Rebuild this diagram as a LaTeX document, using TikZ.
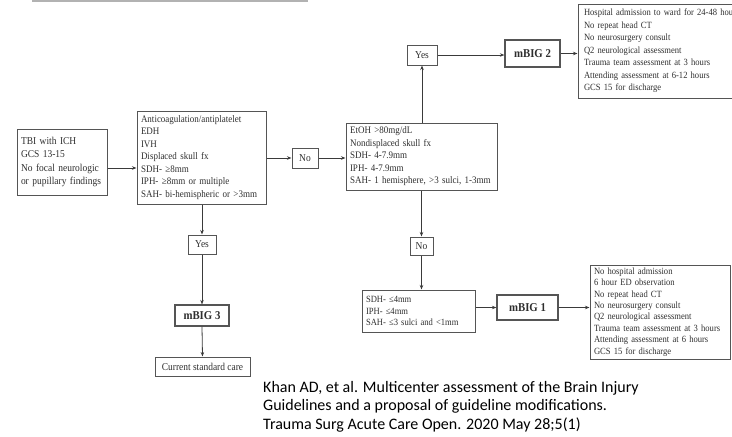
\documentclass[tikz,border=0pt]{standalone}
\usepackage{fontspec}
\setmainfont{Liberation Serif}[FakeStretch=0.9]
\newfontfamily\citefont{Carlito}
\usetikzlibrary{arrows.meta}
\definecolor{boxc}{HTML}{555555}
\definecolor{txtc}{HTML}{2E2E2E}
\definecolor{linec}{HTML}{3A3A3A}
\tikzset{
  base/.style={draw=boxc, line width=1pt, rectangle, text=txtc, inner sep=0pt},
  textbox/.style={base, align=left, inner xsep=4pt, font=\fontsize{10}{12.5}\selectfont},
  tagbox/.style={base, align=center, font=\fontsize{10.5}{11}\selectfont},
  bigbox/.style={base, align=center, line width=1.2pt, font=\fontsize{12}{13}\selectfont\bfseries},
  arr/.style={draw=linec, line width=0.8pt, -{Stealth[length=4.5pt,width=3.5pt]}},
  citetext/.style={anchor=base west, inner sep=0pt, text=black, font=\citefont\fontsize{16}{18}\selectfont},
}
\begin{document}
\begin{tikzpicture}[x=1pt,y=-1pt]
\useasboundingbox (0,0) rectangle (732,437);
\clip (0,0) rectangle (732,437);
% top rule
\draw[line width=2pt, draw=gray!60] (32,1.2) -- (308,1.2);

\node[textbox, text width=82pt, minimum height=66pt, font=\fontsize{10.5}{13.5}\selectfont] (tbi) at (62,162)
  {TBI with ICH\\GCS 13-15\\No focal neurologic\\or pupillary findings};
\node[textbox, text width=121pt, minimum height=93pt] (b2) at (201.5,157.5)
  {Anticoagulation/antiplatelet\\EDH\\IVH\\Displaced skull fx\\SDH- ≥8mm\\IPH- ≥8mm or multiple\\SAH- bi-hemispheric or >3mm};
\node[tagbox, minimum width=26pt, minimum height=20pt] (no1) at (305,158) {No};
\node[textbox, text width=143pt, minimum height=67pt] (b3) at (421.5,156.5)
  {EtOH >80mg/dL\\Nondisplaced skull fx\\SDH- 4-7.9mm\\IPH- 4-7.9mm\\SAH- 1 hemisphere, >3 sulci, 1-3mm};
\node[tagbox, minimum width=30pt, minimum height=20pt] (yes1) at (422,55) {Yes};
\node[bigbox, minimum width=55pt, minimum height=27pt] (mbig2) at (532.5,53.5) {mBIG 2};
\node[textbox, inner xsep=6pt, text width=160pt, minimum height=94pt, font=\fontsize{9.5}{12.5}\selectfont] (r2) at (664,51)
  {\mbox{Hospital admission to ward for 24-48 hours}\\No repeat head CT\\No neurosurgery consult\\Q2 neurological assessment\\Trauma team assessment at 3 hours\\Attending assessment at 6-12 hours\\GCS 15 for discharge};
\node[tagbox, minimum width=23pt, minimum height=18pt] (no2) at (421.5,246) {No};
\node[textbox, text width=105pt, minimum height=42pt, font=\fontsize{9.5}{11.5}\selectfont] (sdh) at (418.5,311)
  {SDH- ≤4mm\\IPH- ≤4mm\\SAH- ≤3 sulci and <1mm};
\node[bigbox, minimum width=61pt, minimum height=25pt] (mbig1) at (527.5,307.5) {mBIG 1};
\node[textbox, text width=132pt, minimum height=94pt, font=\fontsize{9.5}{11.4}\selectfont] (r1) at (660,312)
  {No hospital admission\\6 hour ED observation\\No repeat head CT\\No neurosurgery consult\\Q2 neurological assessment\\\mbox{Trauma team assessment at 3 hours}\\Attending assessment at 6 hours\\GCS 15 for discharge};
\node[tagbox, minimum width=28pt, minimum height=19pt] (yes3) at (202,244.5) {Yes};
\node[bigbox, minimum width=54pt, minimum height=21pt] (mbig3) at (202,315.5) {mBIG 3};
\node[tagbox, minimum width=95pt, minimum height=19pt] (std) at (202.5,366.5) {Current standard care};

% connectors
\coordinate (y1) at (0,168);
\draw[arr] (tbi.east |- y1) -- (b2.west |- y1);
\draw[arr] (b2.east |- no1) -- (no1.west);
\draw[arr] (no1.east) -- (no1 -| b3.west);
\draw[arr] (b3.north -| yes1) -- (yes1.south);
\draw[arr] (yes1.east) -- (yes1 -| mbig2.west);
\draw[arr] (mbig2.east) -- (mbig2 -| r2.west);
\draw[arr] (b3.south -| no2) -- (no2.north);
\draw[arr] (no2.south) -- (no2 |- sdh.north);
\draw[arr] (sdh.east |- mbig1) -- (mbig1.west);
\draw[arr] (mbig1.east) -- (mbig1 -| r1.west);
\draw[arr] (b2.south -| yes3) -- (yes3.north);
\draw[arr] (yes3.south) -- (mbig3.north);
\draw[arr] (mbig3.south) -- (std.north);

% citation
\node[citetext] (cite1) at (263,392) {Khan AD, et al. Multicenter assessment of the Brain Injury};
\node[citetext] (cite2) at (263,410.5) {Guidelines and a proposal of guideline modifications.};
\node[citetext] (cite3) at (263,429) {Trauma Surg Acute Care Open. 2020 May 28;5(1)};
\end{tikzpicture}
\end{document}
